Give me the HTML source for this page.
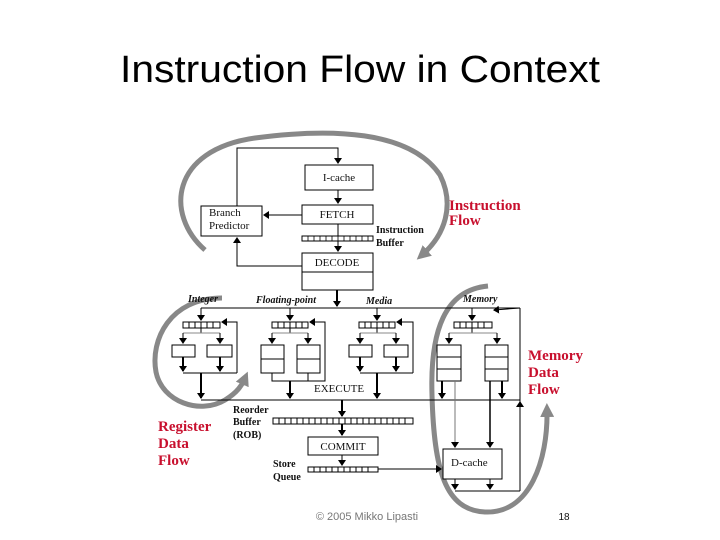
<!DOCTYPE html>
<html><head><meta charset="utf-8"><style>
html,body{margin:0;padding:0;background:#fff;width:720px;height:540px;overflow:hidden}
svg{display:block}
.t{font-family:"Liberation Serif",serif;font-size:11px;fill:#111}
.b{font-family:"Liberation Serif",serif;font-size:10px;font-weight:bold;fill:#111}
.bi{font-family:"Liberation Serif",serif;font-size:10px;font-weight:bold;font-style:italic;fill:#111}
.r{font-family:"Liberation Serif",serif;font-size:15px;font-weight:bold;fill:#c8102e}
</style></head><body>
<svg width="720" height="540" viewBox="0 0 720 540">
<defs>
<marker id="a" markerWidth="6" markerHeight="8" refX="5" refY="4" orient="auto" markerUnits="userSpaceOnUse"><path d="M0,0 L6,4 L0,8 z" fill="#000"/></marker>
<marker id="g" markerWidth="14" markerHeight="14" refX="7" refY="7" orient="auto" markerUnits="userSpaceOnUse"><path d="M0,0 L14,7 L0,14 z" fill="#888"/></marker>
</defs>
<text x="360" y="82" text-anchor="middle" font-family="Liberation Sans,sans-serif" font-size="38" textLength="480" lengthAdjust="spacingAndGlyphs" fill="#000">Instruction Flow in Context</text>

<g fill="none" stroke="#888" stroke-width="5">
<path d="M205,250 C165,215 170,150 255,138 C330,128 410,130 440,175 C455,205 445,235 422,255" marker-end="url(#g)"/>
<path d="M222,298 C170,298 150,340 156,372 C162,402 200,415 225,400 C238,392 242,385 245,378" marker-end="url(#g)"/>
<path d="M488,286 C445,290 430,330 432,395 C434,470 445,510 485,512 C530,514 548,460 547,410" marker-end="url(#g)"/>
</g>

<g stroke="#000" stroke-width="1" fill="none">
<rect x="305" y="165" width="68" height="25" fill="#fff"/>
<rect x="302" y="205" width="71" height="19" fill="#fff"/>
<rect x="201" y="206" width="61" height="30" fill="#fff"/>
<rect x="302" y="253" width="71" height="37" fill="#fff"/>
<line x1="302" y1="272" x2="373" y2="272"/>
<polyline points="237,206 237,148 338,148 338,163" marker-end="url(#a)"/>
<line x1="338" y1="190" x2="338" y2="203" marker-end="url(#a)"/>
<line x1="302" y1="215" x2="264" y2="215" marker-end="url(#a)"/>
<line x1="338" y1="224" x2="338" y2="251" marker-end="url(#a)"/>
<polyline points="302,266 237,266 237,238" marker-end="url(#a)"/>
<line x1="337" y1="290" x2="337" y2="306" marker-end="url(#a)" stroke-width="2"/>
<line x1="201" y1="308" x2="520" y2="308"/>
<line x1="520" y1="308" x2="520" y2="491"/>
<line x1="520" y1="308" x2="494" y2="310" marker-end="url(#a)"/>
<line x1="520" y1="430" x2="520" y2="402" marker-end="url(#a)"/>
<line x1="455" y1="491" x2="520" y2="491"/>
<line x1="201" y1="400" x2="520" y2="400"/>
</g>
<g stroke="#000" fill="#fff" stroke-width="1">
<rect x="302" y="236" width="71" height="5"/>
</g>
<g stroke="#000" stroke-width="0.8">
<path d="M308,236v5M314,236v5M320,236v5M326,236v5M332,236v5M338,236v5M344,236v5M350,236v5M356,236v5M362,236v5M368,236v5"/>
</g>

<g stroke="#000" stroke-width="1" fill="none">
<line x1="201" y1="308" x2="201" y2="320" marker-end="url(#a)"/>
<rect x="183" y="322" width="37" height="6" fill="#fff"/>
<path d="M189,322v6M195,322v6M201,322v6M207,322v6M213,322v6"/>
<line x1="201" y1="328" x2="201" y2="333"/>
<line x1="183" y1="333" x2="220" y2="333" stroke="#888"/>
<line x1="183" y1="333" x2="183" y2="343" marker-end="url(#a)"/>
<line x1="220" y1="333" x2="220" y2="343" marker-end="url(#a)"/>
<rect x="172" y="345" width="23" height="12" fill="#fff"/>
<rect x="207" y="345" width="25" height="12" fill="#fff"/>
<line x1="183" y1="357" x2="183" y2="371" marker-end="url(#a)" stroke-width="2"/>
<line x1="220" y1="357" x2="220" y2="371" marker-end="url(#a)" stroke-width="2"/>
<line x1="183" y1="373" x2="237" y2="373"/>
<polyline points="237,373 237,322 222,322" marker-end="url(#a)"/>
<line x1="201" y1="373" x2="201" y2="398" marker-end="url(#a)" stroke-width="2"/>

<line x1="290" y1="308" x2="290" y2="320" marker-end="url(#a)"/>
<rect x="272" y="322" width="36" height="6" fill="#fff"/>
<path d="M278,322v6M284,322v6M290,322v6M296,322v6M302,322v6"/>
<line x1="290" y1="328" x2="290" y2="333"/>
<line x1="272" y1="333" x2="308" y2="333" stroke="#888"/>
<line x1="272" y1="333" x2="272" y2="343" marker-end="url(#a)"/>
<line x1="308" y1="333" x2="308" y2="343" marker-end="url(#a)"/>
<rect x="261" y="345" width="23" height="28" fill="#fff"/>
<line x1="261" y1="359" x2="284" y2="359"/>
<rect x="297" y="345" width="23" height="28" fill="#fff"/>
<line x1="297" y1="359" x2="320" y2="359"/>
<polyline points="272,373 272,381 325,381 325,322 310,322" marker-end="url(#a)"/>
<line x1="308" y1="373" x2="308" y2="381"/>
<line x1="290" y1="381" x2="290" y2="398" marker-end="url(#a)" stroke-width="2"/>

<line x1="377" y1="308" x2="377" y2="320" marker-end="url(#a)"/>
<rect x="359" y="322" width="36" height="6" fill="#fff"/>
<path d="M365,322v6M371,322v6M377,322v6M383,322v6M389,322v6"/>
<line x1="377" y1="328" x2="377" y2="333"/>
<line x1="360" y1="333" x2="396" y2="333" stroke="#888"/>
<line x1="360" y1="333" x2="360" y2="343" marker-end="url(#a)"/>
<line x1="396" y1="333" x2="396" y2="343" marker-end="url(#a)"/>
<rect x="349" y="345" width="23" height="12" fill="#fff"/>
<rect x="384" y="345" width="24" height="12" fill="#fff"/>
<line x1="360" y1="357" x2="360" y2="371" marker-end="url(#a)" stroke-width="2"/>
<line x1="396" y1="357" x2="396" y2="371" marker-end="url(#a)" stroke-width="2"/>
<line x1="360" y1="373" x2="413" y2="373"/>
<polyline points="413,373 413,322 397,322" marker-end="url(#a)"/>
<line x1="377" y1="373" x2="377" y2="398" marker-end="url(#a)" stroke-width="2"/>

<line x1="472" y1="308" x2="472" y2="320" marker-end="url(#a)"/>
<rect x="454" y="322" width="38" height="6" fill="#fff"/>
<path d="M460,322v6M466,322v6M472,322v6M478,322v6M484,322v6"/>
<line x1="472" y1="328" x2="472" y2="333"/>
<line x1="449" y1="333" x2="497" y2="333" stroke="#888"/>
<line x1="449" y1="333" x2="449" y2="343" marker-end="url(#a)"/>
<line x1="497" y1="333" x2="497" y2="343" marker-end="url(#a)"/>
<rect x="437" y="345" width="24" height="36" fill="#fff"/>
<line x1="437" y1="357" x2="461" y2="357"/><line x1="437" y1="369" x2="461" y2="369"/>
<rect x="485" y="345" width="23" height="36" fill="#fff"/>
<line x1="485" y1="357" x2="508" y2="357"/><line x1="485" y1="369" x2="508" y2="369"/>
<line x1="442" y1="381" x2="442" y2="398" marker-end="url(#a)" stroke-width="2"/>
<line x1="502" y1="381" x2="502" y2="398" marker-end="url(#a)" stroke-width="2"/>
<line x1="455" y1="381" x2="455" y2="447" marker-end="url(#a)" stroke="#777"/>
<line x1="490" y1="381" x2="490" y2="447" marker-end="url(#a)" stroke-width="1.5"/>

<line x1="342" y1="400" x2="342" y2="416" marker-end="url(#a)" stroke-width="2"/>
<rect x="273" y="418" width="140" height="6" fill="#fff"/>
<path d="M279,418v6M285,418v6M291,418v6M297,418v6M303,418v6M309,418v6M315,418v6M321,418v6M327,418v6M333,418v6M339,418v6M345,418v6M351,418v6M357,418v6M363,418v6M369,418v6M375,418v6M381,418v6M387,418v6M393,418v6M399,418v6M405,418v6"/>
<line x1="342" y1="424" x2="342" y2="435" marker-end="url(#a)" stroke-width="2"/>
<rect x="308" y="437" width="70" height="18" fill="#fff"/>
<line x1="342" y1="455" x2="342" y2="465" marker-end="url(#a)"/>
<rect x="308" y="467" width="70" height="5" fill="#fff"/>
<path d="M314,467v5M320,467v5M326,467v5M332,467v5M338,467v5M344,467v5M350,467v5M356,467v5M362,467v5M368,467v5"/>
<line x1="378" y1="469" x2="441" y2="469" marker-end="url(#a)"/>
<rect x="443" y="449" width="59" height="30" fill="#fff"/>
<line x1="455" y1="479" x2="455" y2="489" marker-end="url(#a)"/>
<line x1="490" y1="479" x2="490" y2="489" marker-end="url(#a)"/>
</g>

<text class="t" x="339" y="181" text-anchor="middle">I-cache</text>
<text class="t" x="337" y="218" text-anchor="middle">FETCH</text>
<text class="t" x="209" y="216">Branch</text>
<text class="t" x="209" y="229">Predictor</text>
<text class="t" x="337" y="266" text-anchor="middle">DECODE</text>
<text class="b" x="376" y="233">Instruction</text>
<text class="b" x="376" y="246">Buffer</text>
<text class="bi" x="188" y="302">Integer</text>
<text class="bi" x="256" y="303">Floating-point</text>
<text class="bi" x="366" y="304">Media</text>
<text class="bi" x="463" y="302">Memory</text>
<text class="t" x="314" y="392">EXECUTE</text>
<text class="b" x="233" y="413">Reorder</text>
<text class="b" x="233" y="425">Buffer</text>
<text class="b" x="233" y="438">(ROB)</text>
<text class="t" x="343" y="450" text-anchor="middle">COMMIT</text>
<text class="b" x="273" y="467">Store</text>
<text class="b" x="273" y="480">Queue</text>
<text class="t" x="451" y="466">D-cache</text>
<text class="r" x="449" y="210">Instruction</text>
<text class="r" x="449" y="225">Flow</text>
<text class="r" x="528" y="360">Memory</text>
<text class="r" x="528" y="377">Data</text>
<text class="r" x="528" y="394">Flow</text>
<text class="r" x="158" y="431">Register</text>
<text class="r" x="158" y="448">Data</text>
<text class="r" x="158" y="465">Flow</text>
<text x="367" y="520" text-anchor="middle" font-family="Liberation Sans,sans-serif" font-size="11" fill="#777">© 2005 Mikko Lipasti</text>
<text x="564" y="520" text-anchor="middle" font-family="Liberation Sans,sans-serif" font-size="10" fill="#111">18</text>
</svg>
</body></html>
